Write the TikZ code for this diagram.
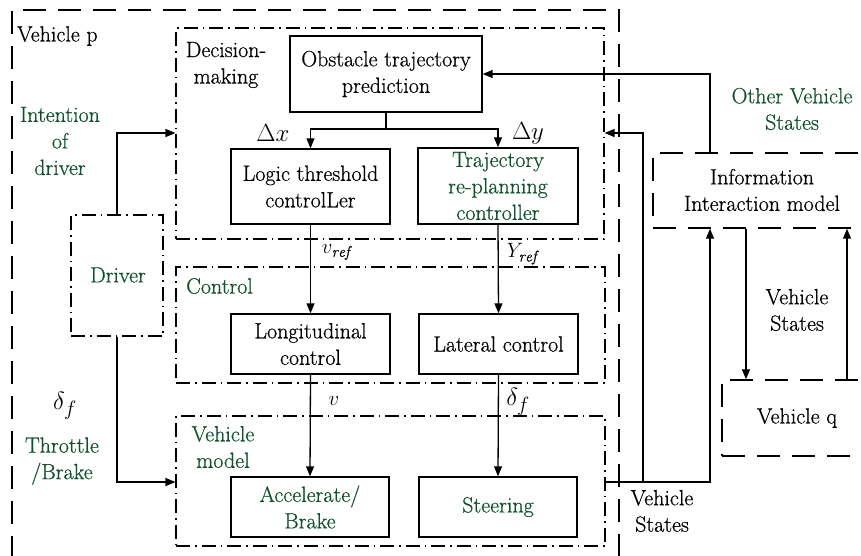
\documentclass[tikz,border=0pt]{standalone}
\usepackage{fontspec}
\setmainfont{Latin Modern Roman}[UprightFeatures={FakeBold=0.6}, ItalicFeatures={FakeBold=0.6}]
\usetikzlibrary{arrows.meta}
\definecolor{dg}{RGB}{16,80,45}
\begin{document}
\begin{tikzpicture}[x=1pt,y=-1pt,
  font=\rmfamily\fontsize{22}{26.5}\selectfont,
  blk/.style={draw, line width=1.4pt, inner sep=0pt, align=center},
  grp/.style={draw, line width=1.2pt, inner sep=0pt, dash pattern=on 14pt off 5pt on 1.5pt off 5pt},
  dsh/.style={draw, line width=1.4pt, inner sep=0pt, dash pattern=on 23pt off 12pt},
  ln/.style={line width=1.3pt},
  arr/.style={line width=1.3pt, -{Triangle[length=10pt,width=8pt]}},
  gtxt/.style={text=dg, align=center, inner sep=0pt},
  btxt/.style={align=center, inner sep=0pt}
]
\useasboundingbox (0,0) rectangle (861,555);
\clip (0,0) rectangle (861,555);
% group frames
\node[dsh, minimum width=607, minimum height=570] (vp) at (315.5,295) {};
\node[grp, minimum width=428, minimum height=211] (dec) at (390,133.5) {};
\node[grp, minimum width=429, minimum height=116] (ctl) at (390.5,325) {};
\node[grp, minimum width=429, minimum height=130] (vm) at (390.5,481) {};
\node[grp, minimum width=92, minimum height=121] (drv) at (117,275.5) {};
\node[dsh, minimum width=240, minimum height=75] (info) at (773,190.5) {};
\node[dsh, minimum width=170, minimum height=76] (vq) at (807,418) {};
% blocks
\node[blk, minimum width=192, minimum height=76] (obs) at (386,74) {Obstacle trajectory\\prediction};
\node[blk, minimum width=159, minimum height=75] (lgc) at (310.5,186.5) {Logic threshold\\controlLer};
\node[blk, minimum width=160, minimum height=76, text=dg] (trj) at (498,186) {Trajectory\\re-planning\\controller};
\node[blk, minimum width=159, minimum height=60] (lon) at (310.5,344) {Longitudinal\\control};
\node[blk, minimum width=159, minimum height=60] (lat) at (498.5,344) {Lateral control};
\node[blk, minimum width=158, minimum height=60, text=dg] (acc) at (310,507) {Accelerate/\\Brake};
\node[blk, minimum width=158, minimum height=60, text=dg] (str) at (498,507) {Steering};
% texts
\node[btxt, anchor=west] (tvp) at (17,36) {Vehicle p};
\node[btxt] (tdec) at (226,65) {Decision-\\making};
\node[gtxt, anchor=west] (tctl) at (186,286) {Control};
\node[gtxt] (tvm) at (223,447) {Vehicle\\model};
\node[gtxt] (tdrv) at (118,275) {Driver};
\node[gtxt] (tint) at (60,141) {Intention\\of\\driver};
\node[btxt] (tdf) at (65,406) {\fontsize{30}{30}\selectfont $\delta_f$};
\node[gtxt] (tthr) at (62,461) {Throttle\\/Brake};
\node[btxt] (tdx) at (273,133) {\fontsize{24}{24}\selectfont $\Delta x$};
\node[btxt] (tdy) at (528,133) {\fontsize{24}{24}\selectfont $\Delta y$};
\node[btxt] (tvr) at (336,252) {$v_{\mathit{ref}}$};
\node[btxt] (tyr) at (522,254) {$Y_{\mathit{ref}}$};
\node[btxt] (tv) at (334,401) {$v$};
\node[btxt] (tdf2) at (518,402) {\fontsize{28}{28}\selectfont $\delta_f$};
\node[gtxt] (tovs) at (792,109) {Other Vehicle\\States};
\node[btxt] (tinfo) at (762,190) {Information\\Interaction model};
\node[btxt] (tvs1) at (797,310) {Vehicle\\States};
\node[btxt] (tvs2) at (662,511) {Vehicle\\States};
\node[btxt] (tvq) at (797,418) {Vehicle q};
% connectors
\coordinate (split) at (386,129);
\draw[ln] (obs.south) -- (split);
\draw[arr] (split) -| (lgc.north);
\draw[arr] (split) -| (trj.north);
\draw[arr] (lgc.south) -- (lon.north);
\draw[arr] (trj.south) -- (lat.north);
\draw[arr] (lon.south) -- (acc.north);
\draw[arr] (lat.south) -- (str.north);
\coordinate (dup) at (117,133);
\coordinate (ddn) at (117,482);
\draw[arr] (drv.north -| dup) -- (dup) -- (dup -| dec.west);
\draw[arr] (drv.south -| ddn) -- (ddn) -- (ddn -| vm.west);
\coordinate (itop) at (710,74);
\draw[arr] (info.north -| itop) -- (itop) -- (obs.east |- itop);
\coordinate (vmo) at (710,482);
\draw[arr] (vmo -| vm.east) -- (vmo) -- (info.south -| vmo);
\coordinate (br) at (643,482);
\coordinate (bru) at (643,133);
\draw[arr] (br) -- (bru) -- (bru -| dec.east);
\coordinate (qa) at (746,0);
\coordinate (qb) at (847,0);
\draw[arr] (info.south -| qa) -- (vq.north -| qa);
\draw[arr] (vq.north -| qb) -- (info.south -| qb);
\end{tikzpicture}
\end{document}
